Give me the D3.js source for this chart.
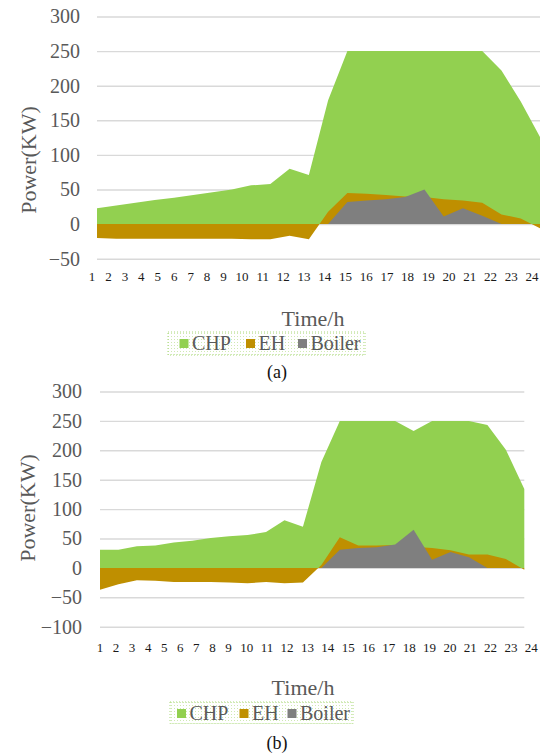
<!DOCTYPE html>
<html>
<head>
<meta charset="utf-8">
<script src="https://cdn.jsdelivr.net/npm/d3@7"></script>
<style>
  html, body { margin: 0; padding: 0; background: #fff; }
  svg { display: block; }
  svg text { font-family: "Liberation Serif", "Times New Roman", serif !important; }
</style>
</head>
<body>
<svg id="fig" width="548" height="755"></svg>
<script>
// Hourly output of each heat source (kW), two scheduling cases
const hours = [1, 2, 3, 4, 5, 6, 7, 8, 9, 10, 11, 12, 13, 14, 15, 16, 17, 18, 19, 20, 21, 22, 23, 24];
const seriesNames = ["CHP", "EH", "Boiler"];

const chpA    = [23, 27, 31, 35, 38, 42, 46, 50, 56, 58, 80, 71, 179, 250, 250, 250, 250, 250, 250, 250, 250, 222, 177, 126];
const ehA     = [-20, -21, -21, -21, -21, -21, -21, -21, -22, -22, -17, -22, 18, 45, 44, 42, 40, 39, 36, 34, 31, 14, 8, -6];
const boilerA = [0, 0, 0, 0, 0, 0, 0, 0, 0, 0, 0, 0, 0, 32, 34, 36, 39, 50, 11, 23, 12, 0, 0, 0];

const chpB    = [31, 31, 37, 38, 43, 46, 51, 54, 56, 61, 81, 70, 180, 250, 250, 250, 250, 233, 250, 250, 250, 243, 201, 134];
const ehB     = [-37, -28, -21, -22, -24, -24, -24, -25, -26, -24, -26, -25, 5, 52, 38, 38, 39, 36, 34, 30, 23, 23, 15, -3];
const boilerB = [0, 0, 0, 0, 0, 0, 0, 0, 0, 0, 0, 0, 0, 31, 34, 35, 40, 65, 14, 27, 18, 0, 0, 0];

const ticksA = [-50, 0, 50, 100, 150, 200, 250, 300];
const ticksB = [-100, -50, 0, 50, 100, 150, 200, 250, 300];

const colors = { CHP: "#92D050", EH: "#BF8F00", Boiler: "#7F7F7F" };
const serif = "Liberation Serif, Times New Roman, serif";

const svg = d3.select("#fig");
svg.append("rect").attr("width", 548).attr("height", 755).attr("fill", "#fff");

// dotted fill used behind the legends
const defs = svg.append("defs");
const pat = defs.append("pattern").attr("id", "dots")
  .attr("width", 3).attr("height", 3).attr("patternUnits", "userSpaceOnUse");
pat.append("rect").attr("width", 1).attr("height", 1).attr("fill", "#cfe9b2");

function drawPanel(cfg) {
  const { left, right, top, bottom, domain, ticks, data, tickRow, yLabel, xTitle, legend, caption } = cfg;
  const g = svg.append("g").attr("font-family", serif);

  const x = d3.scalePoint().domain(hours).range([left, right]);
  const y = d3.scaleLinear().domain(domain).range([bottom, top]);

  // horizontal gridlines
  g.append("g").attr("transform", `translate(${left},0)`)
    .call(d3.axisLeft(y).tickValues(ticks).tickSize(-(right - left)).tickFormat(""))
    .call(s => s.select(".domain").remove())
    .call(s => s.selectAll("line").attr("stroke", "#D9D9D9").attr("stroke-width", 1.4));

  // overlapping areas, each measured from zero
  seriesNames.forEach((name, k) => {
    const area = d3.area()
      .x((d, i) => x(hours[i]))
      .y0(y(0))
      .y1(d => y(d));
    g.append("path").datum(data[k]).attr("d", area).attr("fill", colors[name]);
  });

  // value axis
  g.append("g").attr("transform", `translate(${left},0)`)
    .call(d3.axisLeft(y).tickValues(ticks).tickSize(0).tickPadding(cfg.tickPad))
    .attr("font-family", serif)
    .call(s => s.select(".domain").remove())
    .call(s => s.selectAll("text").attr("font-size", 20).attr("fill", "#595959"));

  // hour labels, set as one spaced line of text
  const lab = g.append("g").selectAll("text").data(hours).join("text")
    .text(d => d).attr("font-size", 13).attr("fill", "#1a1a1a")
    .attr("text-anchor", "middle").attr("y", tickRow.y);
  const w = lab.nodes().map(n => n.getComputedTextLength() * 0.66);
  let half = 0;
  for (let i = 0; i < w.length - 1; i++) half += (w[i] + w[i + 1]) / 2;
  const x0 = left + tickRow.startOff, x1 = right + tickRow.endOff;
  const gap = (x1 - x0 - half) / (w.length - 1);
  const pos = [x0];
  for (let i = 1; i < w.length; i++) pos.push(pos[i - 1] + (w[i - 1] + w[i]) / 2 + gap);
  lab.attr("x", (d, i) => pos[i]);

  // axis titles
  g.append("text").attr("transform", `translate(${yLabel.x},${yLabel.y}) rotate(-90)`)
    .attr("text-anchor", "middle").attr("dy", "0.35em")
    .attr("font-size", 22).attr("fill", "#595959").text("Power(KW)");
  g.append("text").attr("x", xTitle.x).attr("y", xTitle.y).attr("text-anchor", "middle")
    .attr("font-size", 22).attr("fill", "#595959").text("Time/h");

  // legend
  const lg = g.append("g");
  lg.append("rect").attr("x", legend.box[0]).attr("y", legend.box[1])
    .attr("width", legend.box[2]).attr("height", legend.box[3])
    .attr("fill", "url(#dots)").attr("stroke", "#a9d878").attr("stroke-width", 1)
    .attr("stroke-dasharray", "1,2");
  seriesNames.forEach((name, k) => {
    lg.append("rect").attr("x", legend.sq[k]).attr("y", legend.sqY)
      .attr("width", 9).attr("height", 9).attr("fill", colors[name]);
    lg.append("text").attr("x", legend.sq[k] + 12.5).attr("y", legend.textY)
      .attr("font-size", 20).attr("fill", "#595959").text(name);
  });

  g.append("text").attr("x", caption.x).attr("y", caption.y).attr("text-anchor", "middle")
    .attr("font-size", 18).attr("fill", "#111").text(caption.text);
}

drawPanel({
  left: 97, right: 540, top: 16.5, bottom: 258.7, domain: [-50, 300], ticks: ticksA,
  data: [chpA, ehA, boilerA], tickPad: 17,
  tickRow: { y: 281, startOff: -5, endOff: -8 },
  yLabel: { x: 28, y: 160 }, xTitle: { x: 313, y: 326 },
  legend: { box: [168, 332, 197, 23], sq: [179.5, 246, 298], sqY: 339, textY: 350 },
  caption: { x: 277, y: 378, text: "(a)" }
});

drawPanel({
  left: 100, right: 524.3, top: 391.5, bottom: 626.7, domain: [-100, 300], ticks: ticksB,
  data: [chpB, ehB, boilerB], tickPad: 18,
  tickRow: { y: 652, startOff: 0, endOff: 7 },
  yLabel: { x: 27.5, y: 508 }, xTitle: { x: 303, y: 695 },
  legend: { box: [170, 702, 183, 21.5], sq: [177, 239.5, 287.5], sqY: 709, textY: 719.5 },
  caption: { x: 277, y: 749, text: "(b)" }
});
</script>
</body>
</html>
